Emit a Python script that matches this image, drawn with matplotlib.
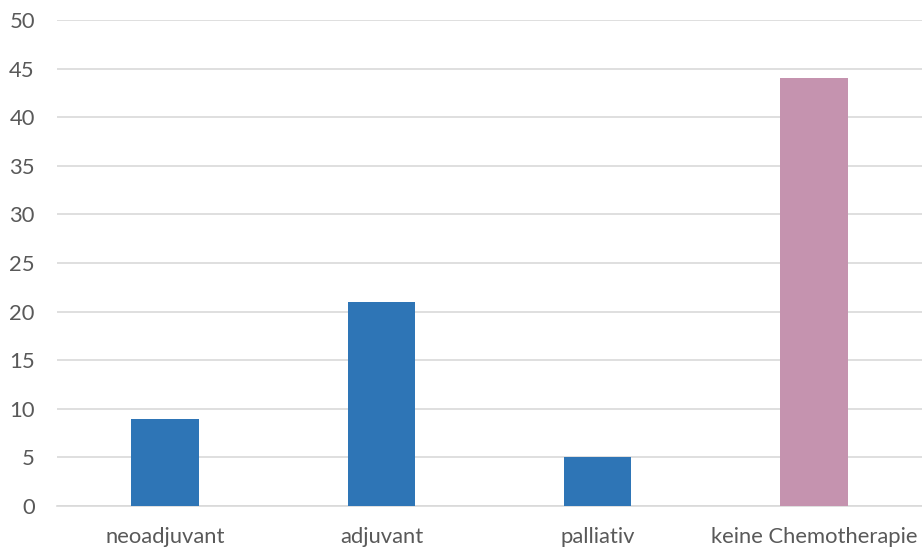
import matplotlib
matplotlib.use("Agg")
import matplotlib.pyplot as plt

categories = ["neoadjuvant", "adjuvant", "palliativ", "keine Chemotherapie"]
values = [9, 21, 5, 44]
bar_colors = ["#2E75B6", "#2E75B6", "#2E75B6", "#C593AF"]
y_ticks = list(range(0, 51, 5))

plt.rcParams["font.family"] = ["Lato", "DejaVu Sans"]

fig = plt.figure(figsize=(9.22, 5.5), dpi=100)
ax = fig.add_axes([57 / 922, 44 / 550, 865 / 922, 486 / 550])

x = list(range(len(categories)))
ax.bar(x, values, width=0.313, color=bar_colors, zorder=3)

ax.set_xlim(-0.5, len(categories) - 0.5)
ax.set_ylim(0, 50)
ax.set_yticks(y_ticks)
ax.set_xticks(x)
ax.set_xticklabels(categories)

ax.yaxis.grid(True, color="#D9D9D9", linewidth=1.2, zorder=0)
ax.set_axisbelow(True)
for side in ("top", "right", "left"):
    ax.spines[side].set_visible(False)
ax.spines["bottom"].set_color("#D9D9D9")
ax.spines["bottom"].set_linewidth(1.2)

ax.tick_params(axis="both", length=0, labelsize=15.8, labelcolor="#595959")
ax.tick_params(axis="y", pad=16)
ax.tick_params(axis="x", pad=15)

fig.savefig("out.png", dpi=100)
